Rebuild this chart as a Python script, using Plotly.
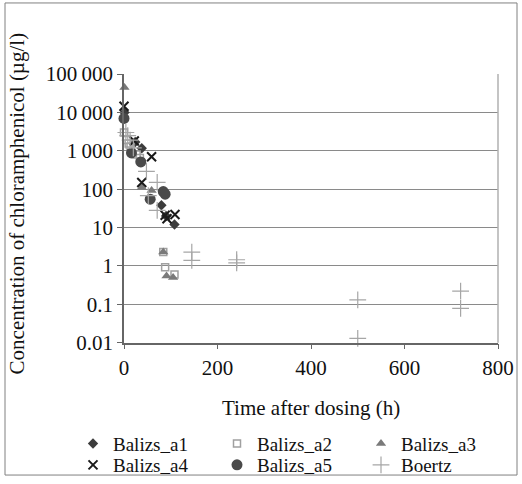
import plotly.graph_objects as go

# ---- data ----
a1_t = [1, 24, 38, 80, 90, 108]
a1_c = [10000, 1700, 1170, 38, 20, 12]

a2_t = [0, 6, 10, 14, 27, 34, 84, 88, 108]
a2_c = [3000, 1900, 1550, 1300, 800, 650, 2.3, 0.92, 0.6]

a3_t = [1, 38, 59, 84, 91, 105]
a3_c = [45000, 110, 92, 2.3, 0.55, 0.5]

a4_t = [0, 22, 38, 59, 88, 92, 109]
a4_c = [14500, 1800, 150, 700, 21, 17, 22]

a5_t = [0, 16, 36, 56, 84, 88]
a5_c = [7000, 880, 515, 55, 87, 74]

bo_t = [4, 8, 13, 20, 48, 52, 71, 71, 145, 145, 241, 241, 500, 500, 720, 720]
bo_c = [3000, 2500, 1900, 1200, 290, 68, 150, 28, 2.3, 1.4, 1.45, 1.2, 0.13, 0.013, 0.22, 0.078]

y_tickvals = [0.01, 0.1, 1, 10, 100, 1000, 10000, 100000]
y_ticktext = ["0.01", "0.1", "1", "10", "100", "1\u2009000", "10\u2009000", "100\u2009000"]
x_tickvals = [0, 200, 400, 600, 800]

FONT = "Liberation Serif, Times New Roman, serif"
FS = 21
LFS = 19
W, H = 522, 484

def px(x):
    return x / W

def py(y):
    return 1 - y / H

fig = go.Figure()

def add(name, t, c, symbol, color, size, legend, lw=0):
    fig.add_trace(go.Scatter(
        x=t, y=c, mode="markers", name=name, cliponaxis=False, legend=legend,
        marker=dict(symbol=symbol, color=color, size=size,
                    line=dict(width=lw, color=color)),
    ))

add("Balizs_a1", a1_t, a1_c, "diamond", "#3c3c3c", 8, "legend")
add("Balizs_a2", a2_t, a2_c, "square-open", "#a0a0a0", 7, "legend", 1.5)
add("Balizs_a3", a3_t, a3_c, "triangle-up", "#7a7a7a", 9, "legend")
add("Balizs_a4", a4_t, a4_c, "x-thin", "#1a1a1a", 9, "legend2", 2)
add("Balizs_a5", a5_t, a5_c, "circle", "#4a4a4a", 11, "legend2")
add("Boertz", bo_t, bo_c, "cross-thin", "#a6a6a6", 12, "legend2", 1.2)

leg_common = dict(orientation="h", xanchor="left", yanchor="top",
                  entrywidth=99, entrywidthmode="pixels",
                  font=dict(family=FONT, size=LFS, color="#111"),
                  bgcolor="rgba(0,0,0,0)", borderwidth=0)

fig.update_layout(
    width=W, height=H,
    margin=dict(l=0, r=0, t=0, b=0),
    paper_bgcolor="white", plot_bgcolor="white",
    font=dict(family=FONT, size=FS, color="#111"),
    showlegend=True,
    legend=dict(x=px(73), y=py(430), **leg_common),
    legend2=dict(x=px(73), y=py(452), **leg_common),
    xaxis=dict(domain=[px(124), px(498)], range=[0, 800], tickvals=x_tickvals,
               showgrid=False, zeroline=False, automargin=False,
               showline=True, linecolor="#666", linewidth=1.5,
               ticks="outside", ticklen=5, tickcolor="#666",
               tickfont=dict(family=FONT, size=FS, color="#111")),
    yaxis=dict(domain=[py(347), py(75)], type="log", range=[-2, 5],
               tickvals=y_tickvals, ticktext=y_ticktext, automargin=False,
               showgrid=True, gridcolor="#8a8a8a", gridwidth=1, zeroline=False,
               showline=True, linecolor="#666", linewidth=1.5,
               ticks="outside", ticklen=5, tickcolor="#666",
               tickfont=dict(family=FONT, size=FS, color="#111")),
    annotations=[
        dict(text="Concentration of chloramphenicol (\u00b5g/l)",
             textangle=-90, xref="paper", yref="paper",
             x=px(17), y=py(206), xanchor="center", yanchor="middle",
             showarrow=False, font=dict(family=FONT, size=FS, color="#111")),
        dict(text="Time after dosing (h)", xref="paper", yref="paper",
             x=px(311), y=py(413), xanchor="center", yanchor="middle",
             showarrow=False, font=dict(family=FONT, size=FS, color="#111")),
    ],
    shapes=[
        dict(type="rect", xref="paper", yref="paper", x0=px(5), x1=px(517),
             y0=py(481), y1=py(3), line=dict(color="#808080", width=1)),
        dict(type="line", xref="paper", yref="paper", x0=px(498), x1=px(498),
             y0=py(347), y1=py(75), line=dict(color="#b0b0b0", width=1.5)),
    ],
)

fig.write_html("out.html", config={"displayModeBar": False},
               post_script="document.body.style.margin='0';document.body.style.overflow='hidden';")
